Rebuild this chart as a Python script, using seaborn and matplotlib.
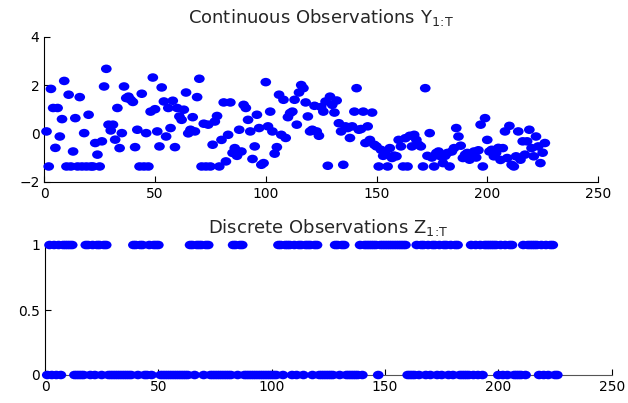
import numpy as np
import pandas as pd
import matplotlib
matplotlib.use("Agg")
import matplotlib.pyplot as plt
from matplotlib.markers import MarkerStyle
from matplotlib.transforms import Affine2D
import seaborn as sns

# Continuous observations Y_{1:T}
y_cont = [
    0.08, -1.37, 1.84, 1.05, -0.60, 1.05, -0.13, 0.59, 2.17, -1.37,
    1.60, -1.37, -0.75, 0.63, -1.37, 1.50, -1.37, 0.01, -1.37, 0.77,
    -1.37, -1.37, -0.40, -0.88, -1.37, -0.33, 1.94, 2.67, 0.36, 0.12,
    0.36, -0.26, 1.05, -0.61, 0.01, 1.94, 1.46, 1.52, 1.39, 1.30,
    -0.57, 0.15, -1.37, 1.64, -1.37, 0.01, -1.37, 0.90, 2.31, 1.00,
    0.08, -0.54, 1.90, 1.32, -0.13, 1.05, 0.22, 1.35, -0.57, 1.05,
    0.70, 0.56, 0.98, 1.69, 0.00, 0.15, 0.67, 0.08, 1.50, 2.26,
    -1.37, 0.40, -1.37, 0.36, -1.37, -0.47, 0.49, 0.72, -1.37, -0.27,
    1.28, -1.16, -0.06, 1.28, -0.81, -0.61, -0.93, 0.15, -0.75, 1.18,
    1.05, 0.56, 0.08, -1.06, -0.54, 0.77, 0.22, -1.30, -1.23, 2.12,
    0.29, 0.90, 0.08, -0.84, -0.57, 1.60, -0.06, 1.39, -0.19, 0.67,
    0.84, 0.90, 1.39, 0.36, 1.69, 2.00, 1.87, 1.28, 0.70, 0.08,
    0.15, 1.14, 0.08, -0.10, 1.09, 0.90, 1.32, -1.34, 1.52, 1.18,
    0.86, 1.36, 0.42, 0.08, -1.30, 0.29, 0.22, -0.19, 0.29, 0.90,
    1.87, 0.15, 0.18, 0.90, -0.40, 0.29, -0.27, 0.86, -0.47, -0.54,
    -1.37, -0.68, -0.93, -0.81, -1.37, -0.61, -1.02, -0.92, -0.95, -0.27,
    -0.54, -1.37, -0.20, -1.37, -0.10, -0.54, -0.06, -0.27, -0.47, -0.54,
    -1.37, 1.87, -0.93, 0.01, -1.00, -1.37, -0.81, -0.75, -0.95, -1.23,
    -0.93, -0.81, -1.37, -0.75, -0.61, 0.22, -0.13, -0.51, -1.02, -0.88,
    -0.81, -1.09, -0.88, -0.75, -1.00, -0.70, 0.36, -1.37, 0.63, -0.27,
    -0.75, -0.68, -0.95, -0.81, -0.60, -1.10, -0.61, 0.08, -1.02, 0.31,
    -1.30, -1.37, -0.95, 0.08, -1.09, -0.33, -0.88, -0.33, 0.15, -0.61,
    -0.95, -0.13, -0.54, -1.23, -0.80, -0.40,
]

# Discrete observations Z_{1:T}
z_disc = [
    0, 1, 0, 1, 0, 1, 0, 1, 1, 1,
    1, 1, 0, 0, 0, 0, 0, 1, 1, 0,
    1, 0, 1, 1, 0, 1, 1, 0, 0, 0,
    0, 0, 0, 0, 0, 0, 0, 0, 1, 1,
    0, 1, 1, 0, 0, 1, 0, 1, 1, 1,
    0, 0, 0, 0, 0, 0, 0, 0, 0, 0,
    0, 0, 0, 1, 1, 0, 1, 1, 1, 0,
    1, 1, 0, 0, 0, 0, 0, 0, 0, 0,
    0, 0, 1, 1, 0, 1, 1, 0, 0, 0,
    0, 0, 0, 0, 0, 0, 0, 0, 0, 0,
    0, 0, 1, 1, 0, 1, 1, 1, 0, 1,
    0, 1, 1, 0, 1, 1, 1, 0, 1, 1,
    0, 0, 0, 0, 0, 0, 0, 1, 1, 0,
    1, 1, 0, 0, 0, 0, 0, 0, 1, 0,
    1, 1, 1, 1, 1, 1, 0, 1, 1, 1,
    1, 1, 1, 1, 1, 1, 1, 1, 1, 0,
    0, 0, 0, 1, 0, 1, 1, 0, 1, 0,
    1, 1, 0, 1, 0, 1, 1, 0, 1, 0,
    1, 1, 0, 0, 0, 0, 0, 1, 0, 1,
    0, 1, 0, 1, 1, 1, 1, 1, 1, 0,
    1, 0, 1, 0, 1, 1, 0, 0, 0, 0,
    1, 0, 1, 1, 1, 1, 1, 0, 1, 0,
    1, 0, 1, 1, 0, 0,
]

top_title = r"Continuous Observations Y$_{\mathrm{1}\!\mathrm{:}\!\mathrm{T}}$"
bottom_title = r"Discrete Observations Z$_{\mathrm{1}\!\mathrm{:}\!\mathrm{T}}$"
x_ticks = [0, 50, 100, 150, 200, 250]
top_yticks = [-2, 0, 2, 4]
bottom_yticks = [0, 0.5, 1]
bottom_yticklabels = ["0", "0.5", "1"]

t_cont = list(range(1, len(y_cont) + 1))
t_disc = list(range(1, len(z_disc) + 1))
df_cont = pd.DataFrame({"t": t_cont, "y": y_cont})
df_disc = pd.DataFrame({"t": t_disc, "z": z_disc})

sns.set_style("ticks")
plt.rcParams["font.family"] = ["DejaVu Sans"]
plt.rcParams["mathtext.fontset"] = "dejavusans"

W, H = 628, 403
fig = plt.figure(figsize=(W / 100, H / 100), dpi=100)
fig.patch.set_facecolor("white")

def px_axes(left, right, top, bottom):
    return fig.add_axes([left / W, 1 - bottom / H, (right - left) / W, (bottom - top) / H])

ax1 = px_axes(44.3, 598, 36.7, 181.7)
ax2 = px_axes(45, 611.7, 245, 375)

marker = MarkerStyle("o", transform=Affine2D().scale(1.25, 1.0))
blue = "#0000FF"

sns.scatterplot(data=df_cont, x="t", y="y", ax=ax1, color=blue, marker=marker,
                s=38, linewidth=0, edgecolor="none", zorder=3, clip_on=False, legend=False)
sns.scatterplot(data=df_disc, x="t", y="z", ax=ax2, color=blue, marker=marker,
                s=38, linewidth=0, edgecolor="none", zorder=3, clip_on=False, legend=False)

for ax in (ax1, ax2):
    ax.set_xlim(0, 250)
    ax.set_xticks(x_ticks)
    ax.set_xticklabels([str(v) for v in x_ticks])
    ax.set_xlabel("")
    ax.set_ylabel("")
    for s in ("top", "right"):
        ax.spines[s].set_visible(False)
    for s in ("left", "bottom"):
        ax.spines[s].set_color("black")
        ax.spines[s].set_linewidth(0.8)
    ax.tick_params(direction="in", length=4, width=0.8, labelsize=10, colors="black")
    ax.set_facecolor("white")

ax2.spines["bottom"].set_color("#555555")

ax1.set_ylim(-2, 4)
ax1.set_yticks(top_yticks)
ax1.set_yticklabels([str(v).replace("-", "\u2212") for v in top_yticks])
ax2.set_ylim(0, 1)
ax2.set_yticks(bottom_yticks)
ax2.set_yticklabels(bottom_yticklabels)

ax1.set_title(top_title, fontsize=13, pad=10)
ax2.set_title(bottom_title, fontsize=13, pad=9)

fig.savefig("out.png", dpi=100, facecolor="white")
